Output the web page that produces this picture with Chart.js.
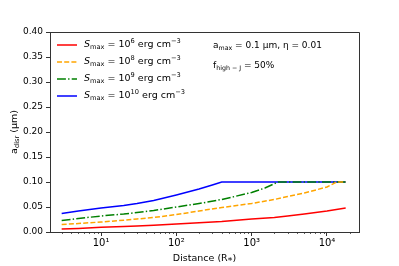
<!DOCTYPE html>
<html>
<head>
<meta charset="utf-8">
<script src="https://cdn.jsdelivr.net/npm/chart.js@4"></script>
<style>
  html, body { margin: 0; padding: 0; background: #fff; }
  #wrap { width: 399px; height: 266px; }
</style>
</head>
<body>
<div id="wrap"><canvas id="chart" width="399" height="266"></canvas></div>
<script>
// Distances (R*) and disruption sizes (um)
const distRed = [3, 5, 10, 20, 30, 50, 100, 200, 400, 1000, 2000, 3000, 5000, 10000, 17700];
const sizeRed = [0.006, 0.0072, 0.0093, 0.011, 0.012, 0.0135, 0.016, 0.0185, 0.021, 0.026, 0.029, 0.032, 0.036, 0.042, 0.048];

const distOrange = [3, 5, 10, 20, 30, 50, 100, 200, 400, 1000, 2000, 3000, 5000, 10000, 13500, 17700];
const sizeOrange = [0.015, 0.017, 0.020, 0.0235, 0.026, 0.029, 0.035, 0.042, 0.049, 0.057, 0.065, 0.071, 0.078, 0.090, 0.1, 0.1];

const distGreen = [3, 5, 10, 20, 30, 50, 100, 200, 400, 1000, 1500, 2230, 17700];
const sizeGreen = [0.023, 0.027, 0.032, 0.036, 0.039, 0.043, 0.050, 0.057, 0.065, 0.079, 0.088, 0.1, 0.1];

const distBlue = [3, 5, 10, 20, 30, 50, 100, 200, 300, 400, 17700];
const sizeBlue = [0.037, 0.042, 0.048, 0.053, 0.057, 0.063, 0.074, 0.086, 0.094, 0.1, 0.1];

const legendExp = ["6", "8", "9", "10"];
const colors = ["#ff0000", "#ffa500", "#008000", "#0000ff"];
const dashes = [[], [5, 2.2], [8.9, 2.2, 1.4, 2.2], []];

const xMin = 2.1, xMax = 26600;
const yTicks = [0, 0.05, 0.1, 0.15, 0.2, 0.25, 0.3, 0.35, 0.4];
const xMajor = [10, 100, 1000, 10000];
const xMajorLabels = ["10\u00b9", "10\u00b2", "10\u00b3", "10\u2074"];

const FONT = "DejaVu Sans";

function pts(xs, ys) {
  return xs.map((x, i) => ({ x: x, y: ys[i] }));
}

const seriesX = [distRed, distOrange, distGreen, distBlue];
const seriesY = [sizeRed, sizeOrange, sizeGreen, sizeBlue];

const datasets = seriesX.map((xs, i) => ({
  data: pts(xs, seriesY[i]),
  borderColor: colors[i],
  borderWidth: 1.5,
  borderDash: dashes[i],
  pointRadius: 0,
  showLine: true,
  fill: false,
  tension: 0
}));

// draw a string made of pieces: [text, kind] kind: n normal, i italic, sub, sup
function drawRich(ctx, x, y, parts, size) {
  parts.forEach(p => {
    const [t, kind] = p;
    let fs = size, dy = 0, style = "";
    if (kind === "sub") { fs = size * 0.7; dy = size * 0.25; }
    if (kind === "sup") { fs = size * 0.7; dy = -size * 0.38; }
    if (kind === "i") style = "italic ";
    ctx.font = style + fs + "px '" + FONT + "'";
    ctx.fillText(t, x, y + dy);
    x += ctx.measureText(t).width;
  });
  return x;
}

const extras = {
  id: "extras",
  afterDraw(chart) {
    const ctx = chart.ctx;
    const xs = chart.scales.x;
    const area = chart.chartArea;
    ctx.save();

    // top and right spines
    ctx.strokeStyle = "#333";
    ctx.lineWidth = 1;
    ctx.beginPath();
    ctx.moveTo(Math.round(area.left), Math.round(area.top) + 0.5);
    ctx.lineTo(Math.round(area.right) + 0.5, Math.round(area.top) + 0.5);
    ctx.lineTo(Math.round(area.right) + 0.5, Math.round(area.bottom));
    ctx.stroke();

    // minor ticks on the log axis
    ctx.lineWidth = 0.8;
    for (let d = 1; d <= 10000; d *= 10) {
      for (let m = 2; m <= 9; m++) {
        const v = d * m;
        if (v < xMin || v > xMax) continue;
        const px = Math.round(xs.getPixelForValue(v)) + 0.5;
        ctx.beginPath();
        ctx.moveTo(px, area.bottom);
        ctx.lineTo(px, area.bottom + 2);
        ctx.stroke();
      }
    }

    ctx.fillStyle = "#000";
    ctx.textBaseline = "middle";

    // legend
    const lx = area.left + 7, tx = area.left + 34;
    colors.forEach((c, i) => {
      const yy = 45 + i * 17;
      ctx.strokeStyle = c;
      ctx.lineWidth = 1.5;
      ctx.setLineDash(dashes[i]);
      ctx.beginPath();
      ctx.moveTo(lx, yy);
      ctx.lineTo(lx + 20, yy);
      ctx.stroke();
      ctx.setLineDash([]);
      drawRich(ctx, tx, yy, [["S", "i"], ["max", "sub"], [" = 10", "n"], [legendExp[i], "sup"], [" erg cm", "n"], ["\u22123", "sup"]], 9.5);
    });

    // annotations
    drawRich(ctx, 213, 46, [["a", "n"], ["max", "sub"], [" = 0.1 \u03bcm, \u03b7 = 0.01", "n"]], 9);
    drawRich(ctx, 213, 66, [["f", "n"], ["high \u2212 J", "sub"], [" = 50%", "n"]], 9);

    // y axis title
    ctx.translate(15, (area.top + area.bottom) / 2);
    ctx.rotate(-Math.PI / 2);
    const parts = [["a", "n"], ["disr", "sub"], [" (\u03bcm)", "n"]];
    let w = 0;
    parts.forEach(p => {
      ctx.font = (p[1] === "sub" ? 9.5 * 0.7 : 9.5) + "px '" + FONT + "'";
      w += ctx.measureText(p[0]).width;
    });
    drawRich(ctx, -w / 2, 0, parts, 9.5);
    ctx.restore();
  }
};

new Chart(document.getElementById("chart"), {
  type: "scatter",
  data: { datasets: datasets },
  options: {
    responsive: false,
    animation: false,
    layout: { padding: { left: 0, right: 40, top: 32, bottom: 0 } },
    plugins: { legend: { display: false }, tooltip: { enabled: false } },
    scales: {
      x: {
        type: "logarithmic",
        min: xMin,
        max: xMax,
        afterBuildTicks: s => { s.ticks = xMajor.map(v => ({ value: v })); },
        afterFit: s => { s.height = 34; },
        ticks: {
          autoSkip: false,
          maxRotation: 0,
          padding: 1,
          color: "#000",
          font: { family: FONT, size: 10 },
          callback: (v) => xMajorLabels[xMajor.indexOf(v)]
        },
        grid: { drawOnChartArea: false, tickLength: 4, tickColor: "#333", color: "#333" },
        border: { color: "#333", width: 1 },
        title: {
          display: true,
          text: "Distance (R\u204e)",
          color: "#000",
          font: { family: FONT, size: 9.5 },
          padding: { top: 0, bottom: 2 }
        }
      },
      y: {
        min: 0,
        max: 0.4,
        afterBuildTicks: s => { s.ticks = yTicks.map(v => ({ value: v })); },
        afterFit: s => { s.width = 50; },
        ticks: {
          padding: 3,
          color: "#000",
          font: { family: FONT, size: 9 },
          callback: v => v.toFixed(2)
        },
        grid: { drawOnChartArea: false, tickLength: 4, tickColor: "#333" },
        border: { color: "#333", width: 1 }
      }
    }
  },
  plugins: [extras]
});
</script>
</body>
</html>
